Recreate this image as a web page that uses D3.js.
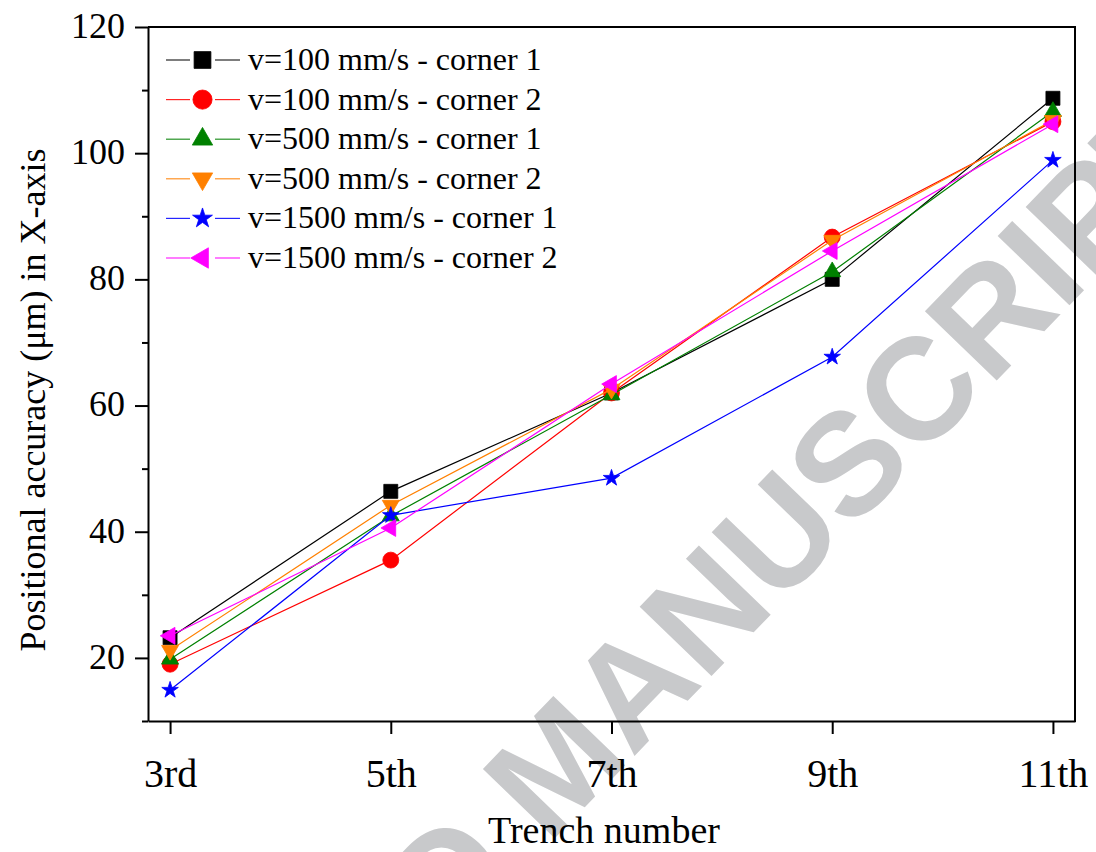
<!DOCTYPE html>
<html>
<head>
<meta charset="utf-8">
<script src="https://cdn.jsdelivr.net/npm/d3@7"></script>
<style>
  html, body { margin: 0; padding: 0; background: #fff; }
  svg { display: block; }
</style>
</head>
<body>
<svg id="chart" width="1096" height="852"></svg>
<script>
// ---- data ----
const categories = ["3rd", "5th", "7th", "9th", "11th"];
const seriesNames = [
  "v=100 mm/s - corner 1",
  "v=100 mm/s - corner 2",
  "v=500 mm/s - corner 1",
  "v=500 mm/s - corner 2",
  "v=1500 mm/s - corner 1",
  "v=1500 mm/s - corner 2"
];
const v100c1 = [23.2, 46.4, 62.0, 80.0, 108.7];
const v100c2 = [19.0, 35.5, 62.0, 86.7, 105.0];
const v500c1 = [19.8, 42.5, 61.7, 81.2, 106.6];
const v500c2 = [21.2, 44.2, 62.6, 86.2, 105.2];
const v1500c1 = [14.9, 42.6, 48.5, 67.7, 98.9];
const v1500c2 = [23.5, 40.6, 63.4, 84.5, 104.6];
const yMajorTicks = [20, 40, 60, 80, 100, 120];
const yMinorTicks = [10, 30, 50, 70, 90, 110];

const seriesValues = [v100c1, v100c2, v500c1, v500c2, v1500c1, v1500c2];
const colors = ["#000000", "#ff0000", "#008000", "#ff8000", "#0000ff", "#ff00ff"];
const shapes = ["square", "circle", "up", "down", "star", "left"];

// ---- layout ----
const svg = d3.select("#chart");
const L = 148, R = 1075, T = 27, B = 721;

// watermark (under chart)
svg.append("text")
  .attr("transform", "translate(-34,1448) rotate(-46)")
  .attr("font-family", "'Liberation Sans', Arial, sans-serif")
  .attr("font-weight", "bold")
  .attr("font-size", 145)
  .attr("fill", "#c8c9cb")
  .text("ACCEPTED MANUSCRIPT");

const x = d3.scaleLinear().domain([-0.1, 4.1]).range([L, R]);
const y = d3.scaleLinear().domain([10, 120]).range([B, T]);

const serif = "'Liberation Serif', 'Times New Roman', serif";

// frame: top & right
svg.append("line").attr("x1", L).attr("x2", R).attr("y1", T).attr("y2", T)
  .attr("stroke", "#000").attr("stroke-width", 2);
svg.append("line").attr("x1", R).attr("x2", R).attr("y1", T - 1).attr("y2", B + 1)
  .attr("stroke", "#000").attr("stroke-width", 2);

// y axis minor
const yMinor = svg.append("g").attr("transform", `translate(${L},0)`)
  .call(d3.axisLeft(y).tickValues(yMinorTicks).tickSize(6).tickSizeOuter(0).tickFormat(""));
yMinor.select(".domain").remove();
yMinor.selectAll(".tick line").attr("stroke-width", 2);

// y axis major
const yAx = svg.append("g").attr("transform", `translate(${L},0)`)
  .call(d3.axisLeft(y).tickValues(yMajorTicks).tickSize(13).tickSizeOuter(0).tickPadding(10));
yAx.select(".domain").attr("stroke-width", 2);
yAx.selectAll(".tick line").attr("stroke-width", 2);
yAx.selectAll(".tick text")
  .attr("font-family", serif).attr("font-size", 36).attr("fill", "#000")
  .attr("dy", "0.29em");

// x axis
const xAx = svg.append("g").attr("transform", `translate(0,${B})`)
  .call(d3.axisBottom(x).tickValues(d3.range(categories.length)).tickSize(13).tickSizeOuter(0)
    .tickFormat(i => categories[i]));
xAx.select(".domain").attr("stroke-width", 2);
xAx.selectAll(".tick line").attr("stroke-width", 2);
xAx.selectAll(".tick text")
  .attr("font-family", serif).attr("font-size", 40).attr("fill", "#000")
  .attr("y", 0).attr("dy", 0).attr("transform", "translate(0,66)");

// axis titles
svg.append("text")
  .attr("x", 604).attr("y", 843)
  .attr("text-anchor", "middle")
  .attr("font-family", serif).attr("font-size", 38)
  .text("Trench number");
svg.append("text")
  .attr("transform", "translate(45,400) rotate(-90)")
  .attr("text-anchor", "middle")
  .attr("font-family", serif).attr("font-size", 36)
  .text("Positional accuracy (\u03bcm) in X-axis");

// marker generator
function markerPath(shape, k) {
  k = k || 1;
  switch (shape) {
    case "square": return { d: d3.symbol(d3.symbolSquare, 196 * k * k)(), rot: 0 };
    case "circle": return { d: d3.symbol(d3.symbolCircle, 200 * k * k)(), rot: 0 };
    case "up": return { d: d3.symbol(d3.symbolTriangle, 125 * k * k)(), rot: 0 };
    case "down": return { d: d3.symbol(d3.symbolTriangle, 125 * k * k)(), rot: 180 };
    case "left": return { d: d3.symbol(d3.symbolTriangle, 125 * k * k)(), rot: -90 };
    case "star": return { d: d3.symbol(d3.symbolStar, 85 * k * k)(), rot: 0 };
  }
}

const line = d3.line().x((d, i) => x(i)).y(d => y(d));

seriesValues.forEach((vals, s) => {
  const g = svg.append("g");
  g.append("path").datum(vals)
    .attr("d", line)
    .attr("fill", "none")
    .attr("stroke", colors[s])
    .attr("stroke-width", 1.2);
  const m = markerPath(shapes[s]);
  g.selectAll("path.mk").data(vals).enter().append("path")
    .attr("class", "mk")
    .attr("d", m.d)
    .attr("transform", (d, i) => `translate(${x(i)},${y(d)}) rotate(${m.rot})`)
    .attr("fill", colors[s])
    .attr("stroke", colors[s])
    .attr("stroke-width", 0.8);
});

// legend
const leg = svg.append("g");
seriesNames.forEach((name, s) => {
  const cy = 60 + s * 39.6;
  const row = leg.append("g");
  row.append("line").attr("x1", 166).attr("x2", 190).attr("y1", cy).attr("y2", cy)
    .attr("stroke", colors[s]).attr("stroke-width", 1.2).attr("opacity", 0.85);
  row.append("line").attr("x1", 215).attr("x2", 240).attr("y1", cy).attr("y2", cy)
    .attr("stroke", colors[s]).attr("stroke-width", 1.2).attr("opacity", 0.85);
  const m = markerPath(shapes[s], 1.2);
  row.append("path").attr("d", m.d)
    .attr("transform", `translate(202.5,${cy}) rotate(${m.rot})`)
    .attr("fill", colors[s]).attr("stroke", colors[s]).attr("stroke-width", 0.8);
  row.append("text")
    .attr("x", 248).attr("y", cy + 10)
    .attr("font-family", serif).attr("font-size", 32).attr("fill", "#000")
    .text(name);
});
</script>
</body>
</html>
